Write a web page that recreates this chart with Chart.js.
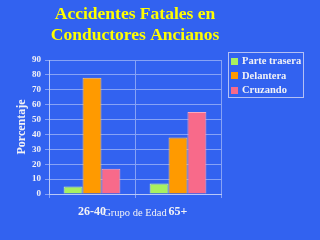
<!DOCTYPE html>
<html>
<head>
<meta charset="utf-8">
<script src="https://cdn.jsdelivr.net/npm/chart.js@4/dist/chart.umd.min.js"></script>
<style>
  html, body { margin: 0; padding: 0; background: #3262F0; }
  canvas { display: block; }
</style>
</head>
<body>
<canvas id="chart" width="320" height="240"></canvas>
<script>
// Age groups on the x axis
const groups = ['26-40', '65+'];
// Collision type series
const seriesNames = ['Parte trasera', 'Delantera', 'Cruzando'];
const rearValues = [5, 7];
const frontValues = [78, 38];
const crossingValues = [17, 55];
// Percentage axis
const yMin = 0;
const yMax = 90;
const yStep = 10;

const fills = ['#A8F060', '#FF9A00', '#F86A8A'];
const edges = ['#D4FAB0', '#FFC870', '#FBA8BC'];
const serif = "'Liberation Serif', 'Times New Roman', serif";
const gridColor = '#86A2F6';
const textColor = '#F2F2F6';

// Boxed legend at the upper right
const boxedLegend = {
  id: 'boxedLegend',
  afterDraw(chart) {
    const ctx = chart.ctx;
    const x0 = 228, y0 = 52, w = 75, h = 45;
    ctx.save();
    ctx.strokeStyle = '#B4C0F4';
    ctx.lineWidth = 1;
    ctx.strokeRect(x0 + 0.5, y0 + 0.5, w, h);
    ctx.font = 'bold 10.5px ' + serif;
    ctx.textBaseline = 'middle';
    ctx.textAlign = 'left';
    chart.data.datasets.forEach((ds, i) => {
      const cy = 61 + i * 14.5;
      ctx.fillStyle = ds.backgroundColor;
      ctx.fillRect(231, Math.round(cy - 3.5), 7, 7);
      ctx.fillStyle = textColor;
      ctx.fillText(ds.label, 242, cy + 0.5);
    });
    ctx.restore();
  }
};

new Chart(document.getElementById('chart'), {
  type: 'bar',
  data: {
    labels: groups,
    datasets: [rearValues, frontValues, crossingValues].map((vals, i) => ({
      label: seriesNames[i],
      data: vals,
      backgroundColor: fills[i],
      borderColor: edges[i],
      borderWidth: 1,
      categoryPercentage: 0.66,
      barPercentage: 1.0
    }))
  },
  options: {
    responsive: false,
    devicePixelRatio: 1,
    animation: false,
    layout: { padding: { left: 0, right: 99, top: 0, bottom: 0 } },
    plugins: {
      legend: { display: false },
      tooltip: { enabled: false },
      title: {
        display: true,
        fullSize: false,
        text: ['Accidentes Fatales en', 'Conductores Ancianos'],
        color: '#FFFF00',
        font: { family: serif, size: 17.5, weight: 'bold', lineHeight: 1.2 },
        padding: { top: 4, bottom: 14 }
      }
    },
    scales: {
      x: {
        afterFit(scale) { scale.height = 46; },
        grid: { color: gridColor, tickLength: 4, offset: true },
        border: { color: '#B8C8F8' },
        ticks: {
          color: textColor,
          font: { family: serif, size: 12, weight: 'bold' },
          padding: 7
        },
        title: {
          display: true,
          text: 'Grupo de Edad',
          color: textColor,
          font: { family: serif, size: 10.5 },
          padding: { top: 0, bottom: 20.7 }
        }
      },
      y: {
        min: yMin,
        max: yMax,
        afterFit(scale) { scale.width = 49; },
        grid: { color: gridColor, tickLength: 4 },
        border: { color: '#B8C8F8' },
        ticks: {
          stepSize: yStep,
          color: textColor,
          font: { family: serif, size: 9, weight: 'bold' },
          padding: 4
        },
        title: {
          display: true,
          text: 'Porcentaje',
          color: textColor,
          font: { family: serif, size: 12, weight: 'bold' },
          padding: { top: 15, bottom: 0 }
        }
      }
    }
  },
  plugins: [boxedLegend]
});
</script>
</body>
</html>
